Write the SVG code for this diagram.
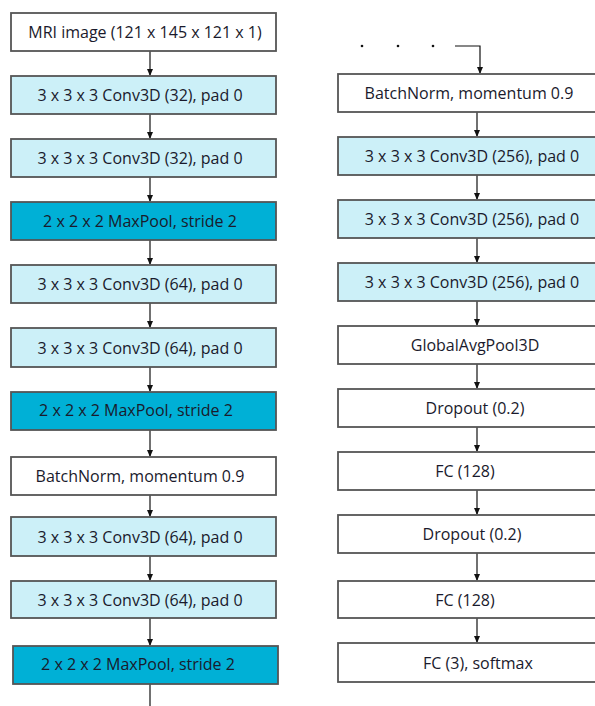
<svg xmlns="http://www.w3.org/2000/svg" width="595" height="706" viewBox="0 0 595 706">
<style>
.b{stroke:#555;stroke-width:1.8}
.w{fill:#fff}
.l{fill:#ccf0f8}
.d{fill:#00b0d6}
text{font-family:"Open Sans","DejaVu Sans",sans-serif;font-size:16px;fill:#1a1a2c;text-anchor:middle;dominant-baseline:central}
.c{stroke:#111;stroke-width:1.2;fill:none}
</style>
<defs>
<marker id="a" markerWidth="7" markerHeight="7" refX="6" refY="3.5" orient="auto" markerUnits="userSpaceOnUse">
<path d="M0,0.5 L7,3.5 L0,6.5 Z" fill="#111"/>
</marker>
</defs>
<rect width="595" height="706" fill="#fff"/>
<g id="connectors">
<line class="c" x1="150" y1="51" x2="150" y2="75" marker-end="url(#a)"/>
<line class="c" x1="150" y1="114" x2="150" y2="138" marker-end="url(#a)"/>
<line class="c" x1="150" y1="177" x2="150" y2="201" marker-end="url(#a)"/>
<line class="c" x1="150" y1="240" x2="150" y2="264" marker-end="url(#a)"/>
<line class="c" x1="150" y1="303" x2="150" y2="327" marker-end="url(#a)"/>
<line class="c" x1="150" y1="367" x2="150" y2="391" marker-end="url(#a)"/>
<line class="c" x1="150" y1="430" x2="150" y2="456" marker-end="url(#a)"/>
<line class="c" x1="150" y1="495" x2="150" y2="516" marker-end="url(#a)"/>
<line class="c" x1="150" y1="556" x2="150" y2="580" marker-end="url(#a)"/>
<line class="c" x1="150" y1="618" x2="150" y2="645" marker-end="url(#a)"/>
<line class="c" x1="150" y1="684" x2="150" y2="706"/>
<path class="c" d="M455,46 H480 V73" marker-end="url(#a)"/>
<line class="c" x1="477" y1="112" x2="477" y2="136" marker-end="url(#a)"/>
<line class="c" x1="477" y1="175" x2="477" y2="199" marker-end="url(#a)"/>
<line class="c" x1="477" y1="238" x2="477" y2="262" marker-end="url(#a)"/>
<line class="c" x1="477" y1="301" x2="477" y2="325" marker-end="url(#a)"/>
<line class="c" x1="477" y1="364" x2="477" y2="388" marker-end="url(#a)"/>
<line class="c" x1="477" y1="427" x2="477" y2="451" marker-end="url(#a)"/>
<line class="c" x1="477" y1="490" x2="477" y2="514" marker-end="url(#a)"/>
<line class="c" x1="477" y1="553" x2="477" y2="580" marker-end="url(#a)"/>
<line class="c" x1="477" y1="618" x2="477" y2="642" marker-end="url(#a)"/>
</g>
<g id="dots" fill="#111">
<circle cx="362" cy="46" r="1.3"/>
<circle cx="398" cy="46" r="1.3"/>
<circle cx="433" cy="46" r="1.3"/>
</g>
<g id="n1"><rect class="b w" x="11" y="13" width="265" height="38"/><text x="145" y="32">MRI image (121 x 145 x 121 x 1)</text></g>
<g id="n2"><rect class="b l" x="11" y="76" width="265" height="38"/><text x="140" y="95">3 x 3 x 3 Conv3D (32), pad 0</text></g>
<g id="n3"><rect class="b l" x="11" y="139" width="265" height="38"/><text x="140" y="158">3 x 3 x 3 Conv3D (32), pad 0</text></g>
<g id="n4"><rect class="b d" x="11" y="202" width="265" height="38"/><text x="140" y="221">2 x 2 x 2 MaxPool, stride 2</text></g>
<g id="n5"><rect class="b l" x="11" y="265" width="265" height="38"/><text x="140" y="284">3 x 3 x 3 Conv3D (64), pad 0</text></g>
<g id="n6"><rect class="b l" x="11" y="328" width="265" height="39"/><text x="140" y="348">3 x 3 x 3 Conv3D (64), pad 0</text></g>
<g id="n7"><rect class="b d" x="11" y="392" width="265" height="38"/><text x="136" y="410">2 x 2 x 2 MaxPool, stride 2</text></g>
<g id="n8"><rect class="b w" x="11" y="457" width="265" height="38"/><text x="140" y="476">BatchNorm, momentum 0.9</text></g>
<g id="n9"><rect class="b l" x="11" y="517" width="265" height="39"/><text x="140" y="537">3 x 3 x 3 Conv3D (64), pad 0</text></g>
<g id="n10"><rect class="b l" x="11" y="581" width="265" height="37"/><text x="140" y="600">3 x 3 x 3 Conv3D (64), pad 0</text></g>
<g id="n11"><rect class="b d" x="13" y="646" width="265" height="38"/><text x="138" y="664">2 x 2 x 2 MaxPool, stride 2</text></g>
<g id="r1"><rect class="b w" x="338" y="74" width="265" height="38"/><text x="469" y="93">BatchNorm, momentum 0.9</text></g>
<g id="r2"><rect class="b l" x="338" y="137" width="265" height="38"/><text x="472" y="156">3 x 3 x 3 Conv3D (256), pad 0</text></g>
<g id="r3"><rect class="b l" x="338" y="200" width="265" height="38"/><text x="472" y="219">3 x 3 x 3 Conv3D (256), pad 0</text></g>
<g id="r4"><rect class="b l" x="338" y="263" width="265" height="38"/><text x="472" y="282">3 x 3 x 3 Conv3D (256), pad 0</text></g>
<g id="r5"><rect class="b w" x="338" y="326" width="265" height="38"/><text x="475" y="345">GlobalAvgPool3D</text></g>
<g id="r6"><rect class="b w" x="338" y="389" width="265" height="38"/><text x="475" y="408">Dropout (0.2)</text></g>
<g id="r7"><rect class="b w" x="338" y="452" width="265" height="38"/><text x="465" y="471">FC (128)</text></g>
<g id="r8"><rect class="b w" x="338" y="515" width="265" height="38"/><text x="472" y="534">Dropout (0.2)</text></g>
<g id="r9"><rect class="b w" x="338" y="581" width="265" height="37"/><text x="465" y="600">FC (128)</text></g>
<g id="r10"><rect class="b w" x="338" y="643" width="265" height="39"/><text x="478" y="663">FC (3), softmax</text></g>
</svg>
